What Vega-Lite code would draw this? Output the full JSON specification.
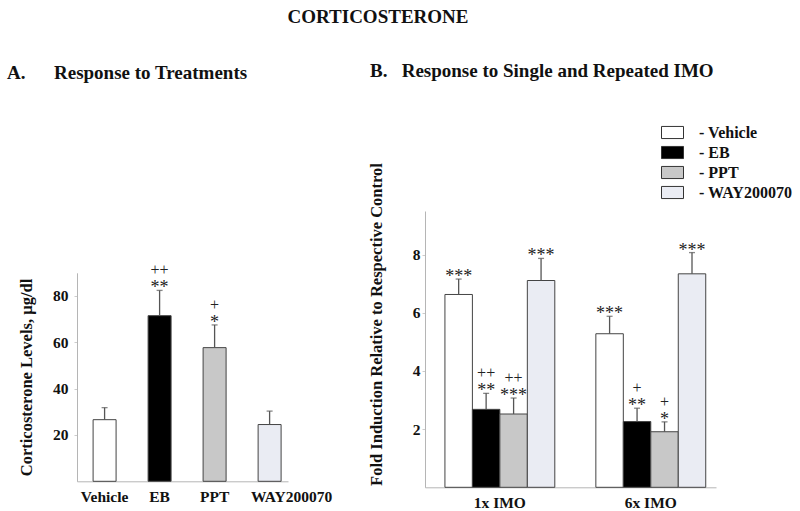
{
  "$schema": "https://vega.github.io/schema/vega-lite/v6.json",
  "background": "white",
  "padding": {"left": 7, "top": 8, "right": 5, "bottom": 0},
  "config": {
    "view": {"stroke": null},
    "font": "Liberation Serif",
    "axis": {
      "grid": false,
      "domainColor": "#b5b5b5",
      "domainWidth": 1,
      "tickColor": "#cccccc",
      "tickSize": 3,
      "labelFont": "Liberation Serif",
      "labelFontWeight": "bold",
      "labelFontSize": 15.5,
      "labelColor": "#111111",
      "titleFont": "Liberation Serif",
      "titleFontWeight": "bold",
      "titleFontSize": 16.5,
      "titleColor": "#111111"
    },
    "legend": {
      "labelFont": "Liberation Serif",
      "labelFontWeight": "bold",
      "labelFontSize": 16,
      "labelColor": "#111111"
    }
  },
  "title": {
    "text": "CORTICOSTERONE",
    "font": "Liberation Serif",
    "fontWeight": "bold",
    "fontSize": 19,
    "color": "#111111",
    "anchor": "middle",
    "dx": -22,
    "offset": 35
  },
  "spacing": 36,
  "resolve": {"scale": {"fill": "independent"}, "legend": {"fill": "independent"}},
  "hconcat": [
    {
      "width": 211,
      "height": 270.3,
      "title": {
        "text": "A.\u00a0\u00a0\u00a0\u00a0\u00a0\u00a0Response to Treatments",
        "font": "Liberation Serif",
        "fontWeight": "bold",
        "fontSize": 19,
        "color": "#111111",
        "anchor": "start",
        "frame": "group",
        "dx": -70,
        "offset": 128
      },
      "data": {
        "values": [
          {"treatment": "Vehicle", "value": 26.6, "err": 31.8, "stars": "", "plus": ""},
          {"treatment": "EB", "value": 71.5, "err": 82.4, "stars": "**", "plus": "++"},
          {"treatment": "PPT", "value": 57.7, "err": 67.5, "stars": "*", "plus": "+"},
          {"treatment": "WAY200070", "value": 24.5, "err": 30.3, "stars": "", "plus": ""}
        ]
      },
      "encoding": {
        "x": {
          "field": "treatment",
          "type": "nominal",
          "sort": ["Vehicle", "EB", "PPT", "WAY200070"],
          "scale": {"paddingInner": 0.582, "paddingOuter": 0.209, "align": 0.7},
          "axis": {
            "title": null,
            "labelAngle": 0,
            "labelPadding": 8,
            "tickSize": 0,
            "labelOverlap": false,
            "labelOffset": {"condition": {"test": "datum.value === 'WAY200070'", "value": 22}, "value": 0}
          }
        }
      },
      "layer": [
        {
          "mark": {"type": "bar", "stroke": "#444444", "strokeWidth": 1},
          "encoding": {
            "y": {
              "field": "value",
              "type": "quantitative",
              "scale": {"domain": [0, 90], "nice": false, "range": [270.3, 61.8]},
              "axis": {
                "values": [20, 40, 60, 80],
                "title": "Corticosterone Levels, µg/dl",
                "labelPadding": 6,
                "titlePadding": 18,
                "titleY": 166
              }
            },
            "fill": {
              "field": "treatment",
              "type": "nominal",
              "scale": {
                "domain": ["Vehicle", "EB", "PPT", "WAY200070"],
                "range": ["#ffffff", "#000000", "#c8c8c8", "#eaecf3"]
              },
              "legend": null
            }
          }
        },
        {
          "mark": {"type": "rule", "color": "#555555", "strokeWidth": 1.3},
          "encoding": {
            "y": {"field": "value", "type": "quantitative"},
            "y2": {"field": "err"}
          }
        },
        {
          "mark": {"type": "tick", "color": "#555555", "thickness": 1.3, "size": 6},
          "encoding": {"y": {"field": "err", "type": "quantitative"}}
        },
        {
          "mark": {"type": "text", "font": "Liberation Serif", "fontSize": 18, "baseline": "alphabetic", "dy": 3, "color": "#222222"},
          "encoding": {
            "y": {"field": "err", "type": "quantitative"},
            "text": {"field": "stars"}
          }
        },
        {
          "mark": {"type": "text", "font": "Liberation Serif", "fontSize": 16, "baseline": "alphabetic", "dy": -15, "color": "#222222"},
          "encoding": {
            "y": {"field": "err", "type": "quantitative"},
            "text": {"field": "plus"}
          }
        }
      ]
    },
    {
      "width": 291,
      "height": 276.3,
      "title": {
        "text": "B.\u00a0\u00a0\u00a0Response to Single and Repeated IMO",
        "font": "Liberation Serif",
        "fontWeight": "bold",
        "fontSize": 19,
        "color": "#111111",
        "anchor": "start",
        "frame": "group",
        "dx": -55,
        "offset": 40
      },
      "data": {
        "values": [
          {"imo": "1x IMO", "treatment": "Vehicle", "value": 6.63, "err": 7.16, "stars": "***", "plus": ""},
          {"imo": "1x IMO", "treatment": "EB", "value": 2.68, "err": 3.23, "stars": "**", "plus": "++"},
          {"imo": "1x IMO", "treatment": "PPT", "value": 2.52, "err": 3.07, "stars": "***", "plus": "++"},
          {"imo": "1x IMO", "treatment": "WAY200070", "value": 7.11, "err": 7.87, "stars": "***", "plus": ""},
          {"imo": "6x IMO", "treatment": "Vehicle", "value": 5.28, "err": 5.88, "stars": "***", "plus": ""},
          {"imo": "6x IMO", "treatment": "EB", "value": 2.26, "err": 2.72, "stars": "**", "plus": "+"},
          {"imo": "6x IMO", "treatment": "PPT", "value": 1.91, "err": 2.25, "stars": "*", "plus": "+"},
          {"imo": "6x IMO", "treatment": "WAY200070", "value": 7.34, "err": 8.07, "stars": "***", "plus": ""}
        ]
      },
      "encoding": {
        "x": {
          "field": "imo",
          "type": "nominal",
          "scale": {"paddingInner": 0.272, "paddingOuter": 0.1, "align": 0.66},
          "axis": {"title": null, "labelAngle": 0, "labelPadding": 8, "tickSize": 0}
        },
        "xOffset": {
          "field": "treatment",
          "type": "nominal",
          "sort": ["Vehicle", "EB", "PPT", "WAY200070"],
          "scale": {"paddingInner": 0, "paddingOuter": 0}
        }
      },
      "layer": [
        {
          "mark": {"type": "bar", "stroke": "#444444", "strokeWidth": 1},
          "encoding": {
            "y": {
              "field": "value",
              "type": "quantitative",
              "scale": {"domain": [0, 9.5], "nice": false},
              "axis": {
                "values": [2, 4, 6, 8],
                "title": "Fold Induction Relative to Respective Control",
                "labelPadding": 2,
                "titlePadding": 28,
                "titleY": 113
              }
            },
            "fill": {
              "field": "treatment",
              "type": "nominal",
              "scale": {
                "domain": ["Vehicle", "EB", "PPT", "WAY200070"],
                "range": ["#ffffff", "#000000", "#c8c8c8", "#eaecf3"]
              },
              "legend": {
                "title": null,
                "orient": "none",
                "legendX": 236,
                "legendY": -90,
                "symbolType": "M-1,-0.55H1V0.55H-1Z",
                "symbolSize": 484,
                "symbolStrokeColor": "#333333",
                "symbolStrokeWidth": 1,
                "labelOffset": 15,
                "rowPadding": 0,
                "labelExpr": "'- ' + datum.label"
              }
            }
          }
        },
        {
          "mark": {"type": "rule", "color": "#555555", "strokeWidth": 1.3},
          "encoding": {
            "y": {"field": "value", "type": "quantitative"},
            "y2": {"field": "err"}
          }
        },
        {
          "mark": {"type": "tick", "color": "#555555", "thickness": 1.3, "size": 6},
          "encoding": {"y": {"field": "err", "type": "quantitative"}}
        },
        {
          "mark": {"type": "text", "font": "Liberation Serif", "fontSize": 18, "baseline": "alphabetic", "dy": 3, "color": "#222222"},
          "encoding": {
            "y": {"field": "err", "type": "quantitative"},
            "text": {"field": "stars"}
          }
        },
        {
          "mark": {"type": "text", "font": "Liberation Serif", "fontSize": 16, "baseline": "alphabetic", "dy": -15, "color": "#222222"},
          "encoding": {
            "y": {"field": "err", "type": "quantitative"},
            "text": {"field": "plus"}
          }
        }
      ]
    }
  ]
}
